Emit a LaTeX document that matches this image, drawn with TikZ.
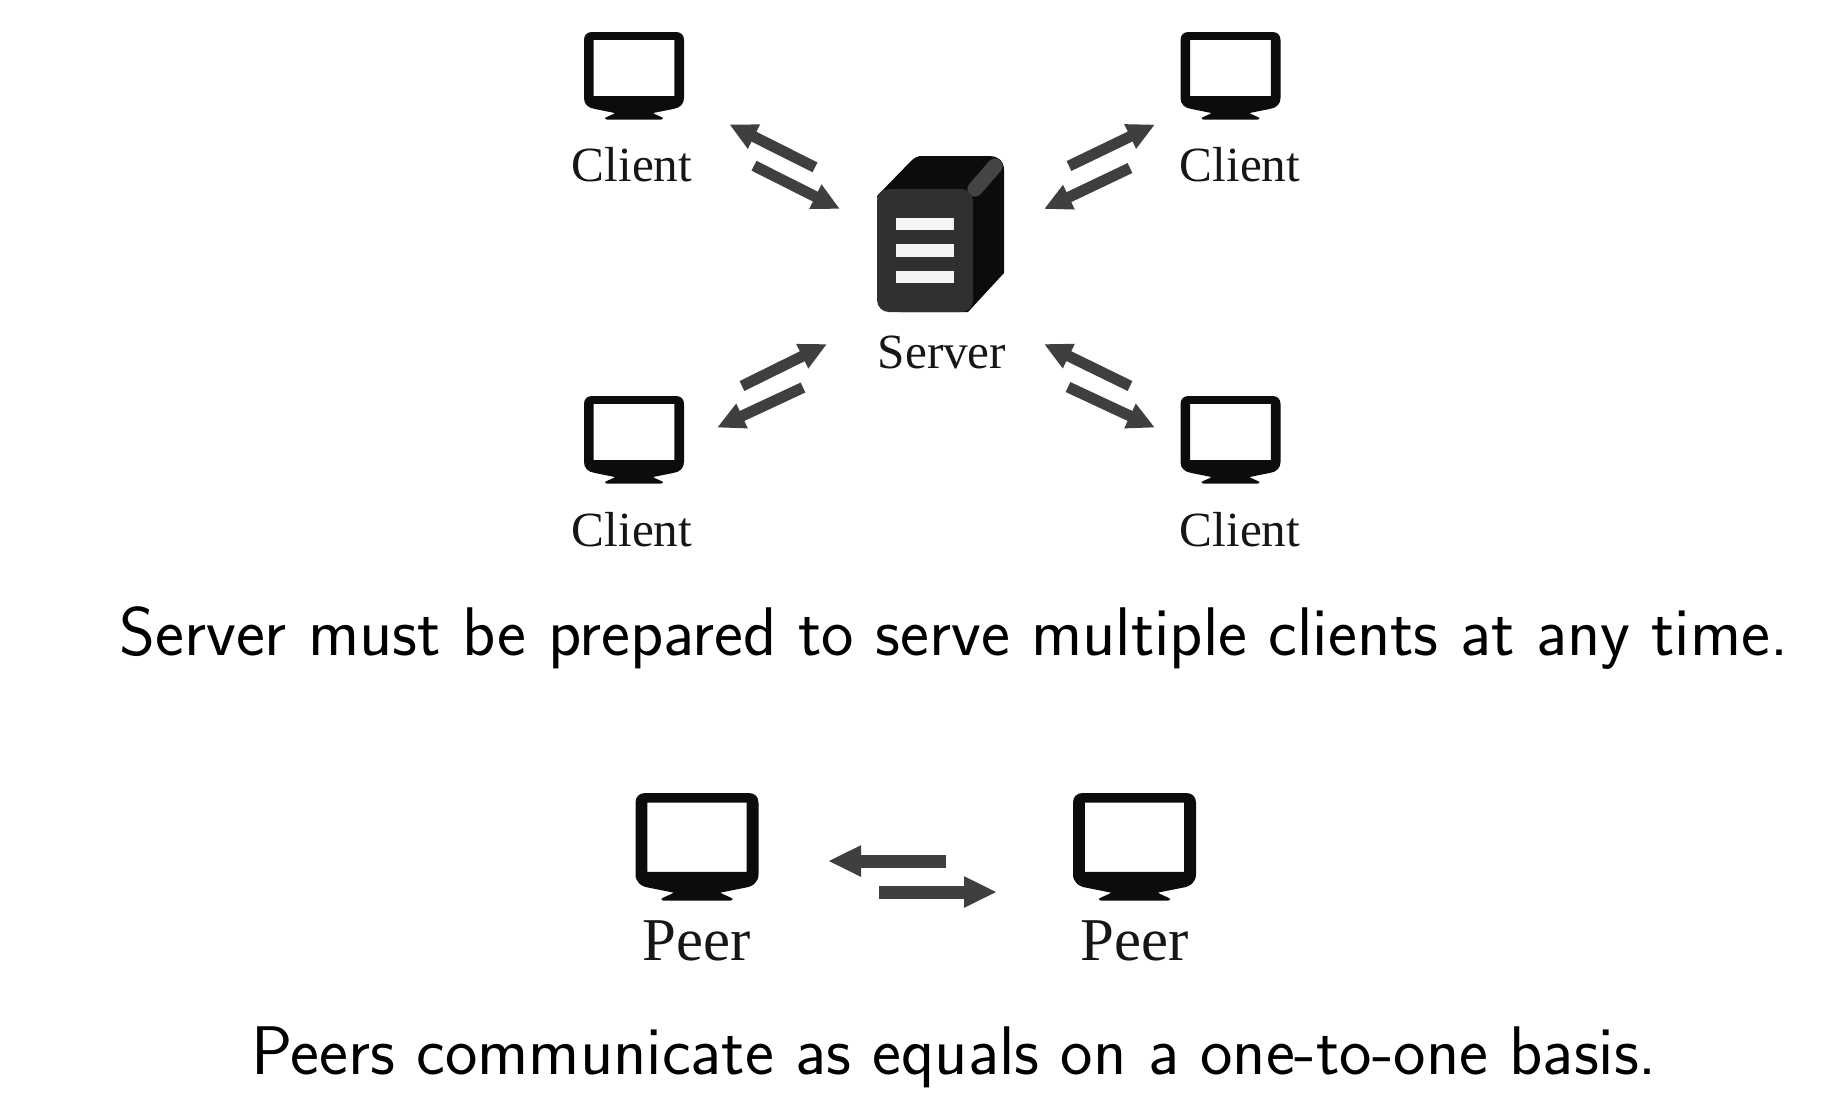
\documentclass[tikz,border=0pt]{standalone}
\usepackage{fontspec}
\setmainfont{Liberation Serif}
\usetikzlibrary{arrows.meta}
\definecolor{iconblack}{HTML}{0C0C0A}
\definecolor{flowgrey}{HTML}{3F3F3D}
\definecolor{frontgrey}{HTML}{30312F}
\definecolor{stripegrey}{HTML}{444442}
\definecolor{bargrey}{HTML}{F4F4F2}
\definecolor{labelblack}{HTML}{161616}
\tikzset{
	monitor/.pic={
		\fill[iconblack,even odd rule] (-42,0) .. controls (-47,0) and (-50,3) .. (-50,8) -- (-50,66)
			.. controls (-50,72) and (-46,76) .. (-39,77) -- (-19,81)
			.. controls (-22,83) and (-26,84) .. (-29,86) .. controls (-29,87) and (-28,87.5) .. (-27,87.5)
			-- (27,87.5) .. controls (28,87.5) and (29,87) .. (29,86)
			.. controls (26,84) and (22,83) .. (19,81) -- (39,77)
			.. controls (46,76) and (50,72) .. (50,66) -- (50,8)
			.. controls (50,3) and (47,0) .. (42,0) -- cycle
			(-40.3,7.8) rectangle (40.3,64);
	}
}
\begin{document}
\begin{tikzpicture}[x=0.25pt,y=-0.25pt,
	label/.style={anchor=base,inner sep=0pt,text=labelblack,font=\fontsize{12.3pt}{14pt}\selectfont},
	peerlabel/.style={label,font=\fontsize{15.2pt}{18pt}\selectfont},
	caption/.style={anchor=base,inner sep=0pt,text=black,font=\sffamily\fontsize{17.2pt}{20pt}\selectfont},
	flow/.style={draw=flowgrey,line width=2.75pt,-{Triangle[length=6.9pt,width=6.3pt,fill=flowgrey]}},
	peerflow/.style={draw=flowgrey,line width=3.25pt,-{Triangle[length=8.25pt,width=7.25pt,fill=flowgrey]}}]
	\useasboundingbox (0,0) rectangle (1842,1108);

	% Draw monitors
	\path (634,32) pic {monitor};
	\path (1230.5,32) pic {monitor};
	\path (634,396) pic {monitor};
	\path (1230.5,396) pic {monitor};
	\path (697,793) pic[scale=1.23] {monitor};
	\path (1134.5,793) pic[scale=1.23] {monitor};

	% Draw server
	\fill[iconblack] (877,196) -- (911,161) .. controls (915,157) and (918,156) .. (922,156) -- (990,156)
		.. controls (997,156) and (1004,160) .. (1004,170) -- (1004,273) -- (968,312) -- (900,312) -- cycle;
	\draw[stripegrey,line width=3.8pt,line cap=round] (975,189) -- (995,166);
	\fill[frontgrey,rounded corners=3pt] (877,189) rectangle (973,312);
	\fill[bargrey] (896,217.7) rectangle (954,230);
	\fill[bargrey] (896,244.3) rectangle (954,256.7);
	\fill[bargrey] (896,271) rectangle (954,283.3);

	% Draw labels
	\node[label] (client1) at (632,181.7) {Client};
	\node[label] (client2) at (1240,181.7) {Client};
	\node[label] (client3) at (632,546) {Client};
	\node[label] (client4) at (1240,546) {Client};
	\node[label] (server) at (942,368) {Server};
	\node[peerlabel] (peer1) at (696.6,960) {Peer};
	\node[peerlabel] (peer2) at (1134.5,960) {Peer};
	\node[caption] (serverline) at (954,655) {Server must be prepared to serve multiple clients at any time.};
	\node[caption] (peerline) at (954,1074) {Peers communicate as equals on a one-to-one basis.};

	% Arrow ends
	\coordinate (a1) at (815,167.3);
	\coordinate (b1) at (729.3,124.3);
	\coordinate (a2) at (754,165.7);
	\coordinate (b2) at (840,209);
	\coordinate (a3) at (1069,166);
	\coordinate (b3) at (1155,124.5);
	\coordinate (a4) at (1130,168);
	\coordinate (b4) at (1044,209);
	\coordinate (a5) at (742,386);
	\coordinate (b5) at (827,344);
	\coordinate (a6) at (803,387.5);
	\coordinate (b6) at (717,427.6);
	\coordinate (a7) at (1130,386);
	\coordinate (b7) at (1044,344);
	\coordinate (a8) at (1068,387);
	\coordinate (b8) at (1155,427.6);
	\coordinate (a9) at (946,861);
	\coordinate (b9) at (828,861);
	\coordinate (a10) at (879,892);
	\coordinate (b10) at (997,892);

	% Draw arrows
	\foreach \n in {1,...,8}
		\draw[flow] (a\n) -- (b\n);
	\draw[peerflow] (a9) -- (b9);
	\draw[peerflow] (a10) -- (b10);
\end{tikzpicture}
\end{document}
